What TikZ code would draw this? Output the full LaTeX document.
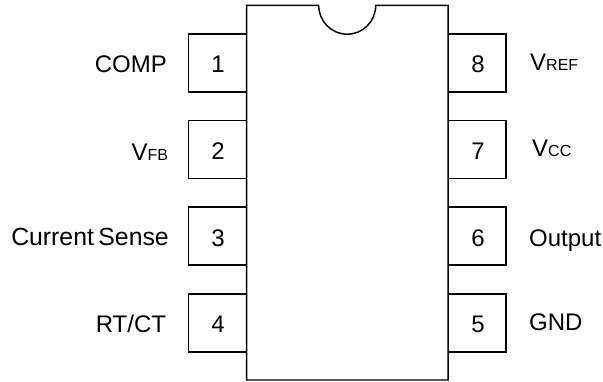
\documentclass[tikz,border=0pt]{standalone}
\usepackage{fontspec}
\setmainfont{Liberation Sans}
\newcommand{\biglab}{\fontsize{24}{26}\selectfont}
\newcommand{\widelab}{\fontsize{24.8}{26}\selectfont}
\newcommand{\smlab}{\fontsize{16}{20}\selectfont}
\tikzset{
  pinbox/.style={draw=black,line width=1.45pt,fill=white,minimum width=58pt,minimum height=58pt,inner sep=0pt,outer sep=0pt},
  pinnum/.style={font=\biglab,inner sep=0pt,anchor=base},
  lab/.style={font=\biglab,inner sep=0pt},
  labr/.style={lab,anchor=base east},
  labl/.style={lab,anchor=base west},
  outline/.style={draw=black,line width=1.45pt,line join=miter,fill=white}
}
\begin{document}
\begin{tikzpicture}[x=1pt,y=-1pt]
\useasboundingbox[fill=white] (0,0) rectangle (603,382);
\node[pinbox] (p1) at (217.5,63.2) {};
\node[pinbox] (p2) at (217.5,149.5) {};
\node[pinbox] (p3) at (217.5,236.2) {};
\node[pinbox] (p4) at (217.5,323) {};
\node[pinbox] (p8) at (477.2,63.2) {};
\node[pinbox] (p7) at (477.2,149.5) {};
\node[pinbox] (p6) at (477.2,236.2) {};
\node[pinbox] (p5) at (477.2,323) {};
\draw[outline] (246.7,5.4) -- (318.7,5.4) arc[start angle=180,end angle=360,x radius=28.5,y radius=-28.8] -- (448.2,5.4) -- (448.2,380) -- (246.7,380) -- cycle;
\node[pinnum] (n1) at (218,73) {1};
\node[pinnum] (n2) at (218,159.5) {2};
\node[pinnum] (n3) at (218,246.5) {3};
\node[pinnum] (n4) at (218,333) {4};
\node[pinnum] (n8) at (478,73) {8};
\node[pinnum] (n7) at (478,159.5) {7};
\node[pinnum] (n6) at (478,246.5) {6};
\node[pinnum] (n5) at (478,333) {5};
\node[labr] (l1) at (167,73) {COMP};
\node[labr] (l2) at (168.3,160.7) {V{\smlab FB}};
\node[labr] (l3) at (169,246) {\widelab Current\hspace{4.5pt}Sense};
\node[labr] (l4) at (166.2,333) {RT/CT};
\node[labl] (l8) at (530,70.7) {V{\smlab REF}};
\node[labl] (l7) at (532,156.7) {V{\smlab CC}};
\node[labl] (l6) at (529,246.2) {Output};
\node[labl] (l5) at (529,330.8) {GND};
\end{tikzpicture}
\end{document}
